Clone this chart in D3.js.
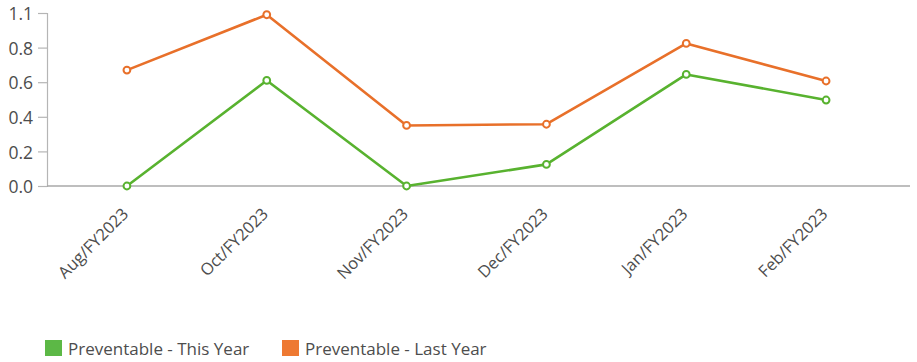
<!DOCTYPE html>
<html>
<head>
<meta charset="utf-8">
<script src="https://cdn.jsdelivr.net/npm/d3@7"></script>
<style>
  html, body { margin: 0; padding: 0; background: #fff; }
  svg { display: block; }
  svg text { font-family: "Open Sans", "Noto Sans", sans-serif; }
</style>
</head>
<body>
<svg id="chart" width="917" height="362"></svg>
<script>
// Monthly preventable rates, this fiscal year vs last
const months = ["Aug/FY2023", "Oct/FY2023", "Nov/FY2023", "Dec/FY2023", "Jan/FY2023", "Feb/FY2023"];
const thisYear = [0.0, 0.61, 0.0, 0.125, 0.645, 0.497];
const lastYear = [0.67, 0.99, 0.35, 0.357, 0.824, 0.607];
const seriesNames = ["Preventable - This Year", "Preventable - Last Year"];
const yTickValues = [0.0, 0.2, 0.4, 0.6, 0.8, 1.0];
const yTickLabels = ["0.0", "0.2", "0.4", "0.6", "0.8", "1.1"];

const colors = { line: ["#58b22f", "#e8702a"], swatch: ["#5cb846", "#ee7932"] };
const textColor = "#4d4d4d";

const svg = d3.select("#chart");
const plot = { left: 47, right: 910, top: 13, bottom: 186 };

const x = d3.scalePoint().domain(months).range([57, 896]).padding(0.5);
const y = d3.scaleLinear().domain([0, 1.0]).range([plot.bottom, plot.top]);

// Y axis
const yAxis = svg.append("g")
  .attr("transform", `translate(${plot.left},0)`)
  .call(d3.axisLeft(y).tickValues(yTickValues)
    .tickFormat((d, i) => yTickLabels[i]).tickSize(9).tickPadding(5));
yAxis.attr("font-family", null).attr("font-size", null);
yAxis.select(".domain").attr("stroke", "#b5b5b5").attr("stroke-width", 1.2);
yAxis.selectAll(".tick line").attr("stroke", "#b5b5b5").attr("stroke-width", 1.2);
yAxis.selectAll(".tick text")
  .attr("fill", textColor)
  .attr("font-size", 17.5)
  .attr("dy", "0.38em");

// Baseline along zero
svg.append("line")
  .attr("x1", plot.left).attr("x2", plot.right)
  .attr("y1", y(0)).attr("y2", y(0))
  .attr("stroke", "#a8a8a8").attr("stroke-width", 1.3);

// X axis labels, rotated
const xAxis = svg.append("g")
  .attr("transform", `translate(0,${y(0)})`)
  .call(d3.axisBottom(x).tickSize(0).tickPadding(0));
xAxis.attr("font-family", null).attr("font-size", null);
xAxis.select(".domain").remove();
xAxis.selectAll(".tick text")
  .attr("fill", textColor)
  .attr("font-size", 16.5)
  .attr("text-anchor", "end")
  .attr("dy", "0")
  .attr("transform", "translate(2,29) rotate(-45)");

// Lines and markers
const series = [thisYear, lastYear];
const line = d3.line().x((d, i) => x(months[i])).y(d => y(d));

[1, 0].forEach(s => {
  svg.append("path")
    .datum(series[s])
    .attr("fill", "none")
    .attr("stroke", colors.line[s])
    .attr("stroke-width", 2.6)
    .attr("stroke-linejoin", "round")
    .attr("d", line);
  svg.append("g").selectAll("circle")
    .data(series[s])
    .join("circle")
    .attr("cx", (d, i) => x(months[i]))
    .attr("cy", d => y(d))
    .attr("r", 3.4)
    .attr("fill", "#fff")
    .attr("stroke", colors.line[s])
    .attr("stroke-width", 2);
});

// Legend
const legendX = [45, 282];
const legend = svg.append("g");
seriesNames.forEach((name, i) => {
  legend.append("rect")
    .attr("x", legendX[i]).attr("y", 340)
    .attr("width", 17).attr("height", 16)
    .attr("fill", colors.swatch[i]);
  legend.append("text")
    .attr("x", legendX[i] + 23).attr("y", 355)
    .attr("font-size", 17)
    .attr("fill", textColor)
    .text(name);
});
</script>
</body>
</html>
